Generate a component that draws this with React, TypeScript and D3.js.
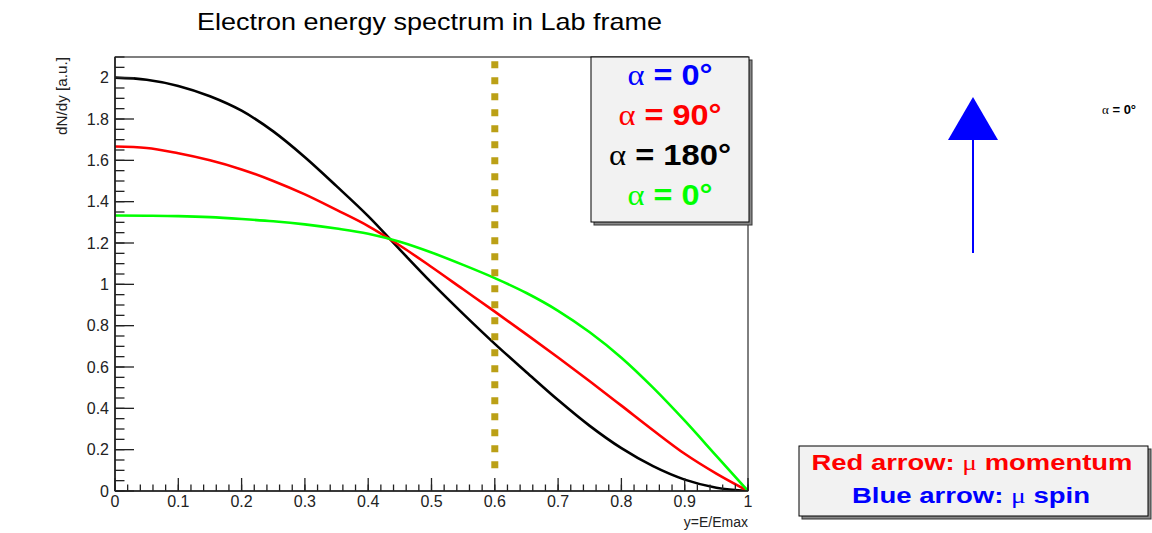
import React from "react";
import * as d3 from "d3";

// ---- data ----
const Y_VALUES = [0, 0.05, 0.1, 0.15, 0.2, 0.25, 0.3, 0.35, 0.4, 0.45, 0.5, 0.55, 0.6, 0.65, 0.7, 0.75, 0.8, 0.85, 0.9, 0.95, 1.0];
const SPECTRUM_180 = [2.0, 1.99, 1.96, 1.91, 1.84, 1.74, 1.615, 1.475, 1.33, 1.168, 1.008, 0.857, 0.712, 0.575, 0.44, 0.315, 0.207, 0.12, 0.055, 0.016, 0.0];
const SPECTRUM_90 = [1.667, 1.66, 1.634, 1.6, 1.556, 1.5, 1.435, 1.36, 1.282, 1.188, 1.084, 0.976, 0.868, 0.758, 0.646, 0.531, 0.413, 0.294, 0.18, 0.084, 0.0];
const SPECTRUM_0 = [1.333, 1.332, 1.33, 1.325, 1.316, 1.305, 1.29, 1.27, 1.245, 1.206, 1.154, 1.094, 1.03, 0.958, 0.872, 0.768, 0.645, 0.5, 0.34, 0.17, 0.0];
const X_DOMAIN = [0, 1];
const Y_DOMAIN = [0, 2.1];
const CUT_X = 0.6;
const CUT_RANGE = [0.11, 2.1];
const LEGEND_LABELS = ["0°", "90°", "180°", "0°"];
const LEGEND_COLORS = ["#0000ff", "#ff0000", "#000000", "#00ff00"];
const TITLE = "Electron energy spectrum in Lab frame";
const Y_TITLE = "dN/dy [a.u.]";
const X_TITLE = "y=E/Emax";

const W = 1152;
const H = 533;
const FL = 115, FR = 748, FT = 57, FB = 491;

export default function App() {
  const x = d3.scaleLinear().domain(X_DOMAIN).range([FL, FR]);
  const y = d3.scaleLinear().domain(Y_DOMAIN).range([FB, FT]);
  const xMajor = x.ticks(10);
  const xMinor = x.ticks(50);
  const yMajor = y.ticks(10);
  const yMinor = y.ticks(40);
  const fmt = d3.format("~g");

  const line = d3
    .line<number>()
    .x((_, i) => x(Y_VALUES[i]))
    .y((d) => y(d))
    .curve(d3.curveMonotoneX);

  const series = [
    { data: SPECTRUM_180, color: "#000000" },
    { data: SPECTRUM_90, color: "#ff0000" },
    { data: SPECTRUM_0, color: "#00ff00" },
  ];

  const legendWidths = [85, 103, 122, 85];
  const font = "Liberation Sans, Arial, Helvetica, sans-serif";
  const sym = "Liberation Serif, DejaVu Serif, serif";

  return (
    <svg
      width={W}
      height={H}
      style={{ position: "absolute", left: 0, top: 0, background: "#fff" }}
      fontFamily={font}
    >
      <defs>
        <clipPath id="frame">
          <rect x={FL} y={FT} width={FR - FL} height={FB - FT} />
        </clipPath>
      </defs>
      <rect x={0} y={0} width={W} height={H} fill="#fff" />

      {/* title */}
      <text x={429.5} y={30} fontSize={24} textAnchor="middle" textLength={465} lengthAdjust="spacingAndGlyphs" fill="#000">
        {TITLE}
      </text>

      {/* curves */}
      <g clipPath="url(#frame)">
        {series.map((s, i) => (
          <path key={i} d={line(s.data) || ""} fill="none" stroke={s.color} strokeWidth={2.6} strokeLinejoin="round" />
        ))}
        <line
          x1={x(CUT_X)}
          x2={x(CUT_X)}
          y1={y(CUT_RANGE[0])}
          y2={y(CUT_RANGE[1])}
          stroke="#bba016"
          strokeWidth={7}
          strokeDasharray="7 9"
        />
      </g>

      {/* frame */}
      <rect x={FL} y={FT} width={FR - FL} height={FB - FT} fill="none" stroke="#000" strokeWidth={1} />
      <line x1={FL} x2={FL} y1={FT} y2={FB} stroke="#222" strokeWidth={1.6} />
      <line x1={FL} x2={FR} y1={FB} y2={FB} stroke="#222" strokeWidth={1.6} />

      {/* x ticks */}
      {xMinor.map((t, i) => (
        <line key={"xm" + i} x1={x(t)} x2={x(t)} y1={FB} y2={FB - 6.5} stroke="#222" strokeWidth={1.3} />
      ))}
      {xMajor.map((t, i) => (
        <g key={"xM" + i}>
          <line x1={x(t)} x2={x(t)} y1={FB} y2={FB - 13} stroke="#222" strokeWidth={1.3} />
          <text x={x(t)} y={507} fontSize={16} textAnchor="middle" fill="#222">
            {fmt(t)}
          </text>
        </g>
      ))}

      {/* y ticks */}
      {yMinor.map((t, i) => (
        <line key={"ym" + i} x1={FL} x2={FL + 9.5} y1={y(t)} y2={y(t)} stroke="#222" strokeWidth={1.3} />
      ))}
      {yMajor.map((t, i) => (
        <g key={"yM" + i}>
          <line x1={FL} x2={FL + 19} y1={y(t)} y2={y(t)} stroke="#222" strokeWidth={1.3} />
          <text x={109} y={y(t) + 5.5} fontSize={16} textAnchor="end" fill="#222">
            {fmt(t)}
          </text>
        </g>
      ))}

      {/* axis titles */}
      <text transform={`translate(67, ${FT}) rotate(-90)`} fontSize={14} textAnchor="end" fill="#222" textLength={78} lengthAdjust="spacingAndGlyphs">
        {Y_TITLE}
      </text>
      <text x={FR} y={527} fontSize={14} textAnchor="end" fill="#222">
        {X_TITLE}
      </text>

      {/* legend box */}
      <rect x={594} y={60} width={158} height={165} fill="#888" stroke="#333" strokeWidth={1} />
      <rect x={591} y={57} width={158} height={165} fill="#f2f2f2" stroke="#000" strokeWidth={1} />
      {LEGEND_LABELS.map((lab, i) => (
        <text
          key={"lg" + i}
          x={670}
          y={85 + i * 40}
          fontSize={29}
          fontWeight="bold"
          textAnchor="middle"
          fill={LEGEND_COLORS[i]}
          textLength={legendWidths[i]}
          lengthAdjust="spacingAndGlyphs"
        >
          <tspan fontFamily={sym} fontWeight="normal">α</tspan>
          {" = " + lab}
        </text>
      ))}

      {/* spin arrow */}
      <line x1={973} x2={973} y1={253} y2={140} stroke="#0000ff" strokeWidth={2} />
      <path d="M973,97 L948,140 L998,140 Z" fill="#0000ff" />
      <text x={1102} y={114} fontSize={13} fontWeight="bold" fill="#000">
        <tspan fontFamily={sym} fontWeight="normal">α</tspan>
        {" = " + LEGEND_LABELS[0]}
      </text>

      {/* bottom-right note */}
      <rect x={802} y={449} width={349} height={70} fill="#888" stroke="#333" strokeWidth={1} />
      <rect x={799} y={446} width={349} height={70} fill="#f2f2f2" stroke="#000" strokeWidth={1} />
      <text x={972} y={470} fontSize={22} fontWeight="bold" textAnchor="middle" fill="#ff0000" textLength={321} lengthAdjust="spacingAndGlyphs">
        {"Red arrow: "}
        <tspan fontFamily={sym} fontWeight="normal">μ</tspan>
        {" momentum"}
      </text>
      <text x={971} y={503} fontSize={22} fontWeight="bold" textAnchor="middle" fill="#0000ff" textLength={238} lengthAdjust="spacingAndGlyphs">
        {"Blue arrow: "}
        <tspan fontFamily={sym} fontWeight="normal">μ</tspan>
        {" spin"}
      </text>
    </svg>
  );
}
